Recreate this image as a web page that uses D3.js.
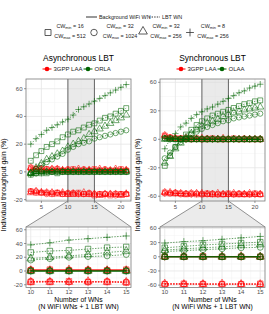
<!DOCTYPE html>
<html><head><meta charset="utf-8">
<script src="https://cdn.jsdelivr.net/npm/d3@7"></script>
<style>body{margin:0;background:#fff}svg{display:block}text{font-family:"Liberation Sans",Arial,sans-serif}</style>
</head><body><svg id="c" width="269" height="314"></svg>
<script>
// ---------- DATA ----------
const xs = [3,4,5,6,7,8,9,10,11,12,13,14,15,16,17,18,19,20,21];
const cwKeys = ["square","circle","triangle","plus"];
const cwMin = ["16","32","32","8"];
const cwMax = ["512","1024","256","256"];
const wnLabels = ["Background WiFi WN","LBT WN"];
const xTicksUpper = [5,10,15,20];
const xTicksLower = [10,11,12,13,14,15];
const zoomRange = [10,15];

// Asynchronous LBT — 3GPP LAA, background WiFi WN (solid)
const asyncLaaBgSquare   = [3,2,2,2,1,2,1,1,2,1,1,1,2,1,1,1,1,2,1];
const asyncLaaBgCircle   = [2,2,1,2,2,1,1,2,1,1,2,1,1,1,2,1,1,1,1];
const asyncLaaBgTriangle = [3,2,2,1,2,2,1,1,1,2,1,1,1,2,1,1,2,1,1];
const asyncLaaBgPlus     = [2,2,2,1,1,2,2,1,1,1,1,2,1,1,1,1,1,1,2];
// Asynchronous LBT — 3GPP LAA, LBT WN (dotted)
const asyncLaaLbtSquare   = [-14,-15,-15,-15,-16,-15,-16,-16,-16,-15,-16,-16,-17,-16,-16,-17,-16,-16,-16];
const asyncLaaLbtCircle   = [-14,-14,-15,-16,-15,-15,-16,-15,-15,-16,-16,-15,-16,-16,-16,-16,-17,-16,-16];
const asyncLaaLbtTriangle = [-15,-14,-15,-15,-15,-16,-15,-16,-16,-16,-15,-16,-16,-17,-16,-16,-16,-17,-16];
const asyncLaaLbtPlus     = [-14,-15,-14,-15,-16,-15,-15,-16,-15,-16,-16,-16,-16,-16,-17,-16,-16,-16,-15];
// Asynchronous LBT — ORLA, background WiFi WN (solid)
const asyncOrlaBgSquare   = [-2,-1,-1,-1,0,-1,0,0,0,0,0,0,0,0,0,0,0,0,0];
const asyncOrlaBgCircle   = [-1,-1,0,0,0,0,0,0,0,0,0,0,0,0,0,0,0,0,0];
const asyncOrlaBgTriangle = [-1,0,0,0,0,0,0,0,0,0,0,0,0,0,0,0,0,0,0];
const asyncOrlaBgPlus     = [-2,-1,-1,0,0,0,0,0,0,0,0,0,0,0,0,0,0,0,0];
// Asynchronous LBT — ORLA, LBT WN (dotted)
const asyncOrlaLbtSquare   = [8,12,15,18,20,22,25,27,29,30,32,34,35,37,39,40,42,44,46];
const asyncOrlaLbtCircle   = [-1,2,5,7,9,11,13,16,18,20,21,22,24,25,26,27,28,29,30];
const asyncOrlaLbtTriangle = [-1,3,6,9,11,13,15,18,20,22,24,27,29,31,33,35,37,39,41];
const asyncOrlaLbtPlus     = [20,24,27,30,32,34,36,38,41,45,47,49,51,53,55,57,59,61,63];

// Synchronous LBT — 3GPP LAA, background WiFi WN (solid)
const syncLaaBgSquare   = [4,2,1,1,1,0,1,0,0,1,0,0,0,1,0,0,0,0,0];
const syncLaaBgCircle   = [3,2,1,1,0,1,0,0,1,0,0,0,0,0,0,1,0,0,0];
const syncLaaBgTriangle = [4,1,1,0,1,0,0,1,0,0,0,1,0,0,0,0,0,0,0];
const syncLaaBgPlus     = [3,2,1,1,0,0,1,0,0,0,1,0,0,0,0,0,1,0,0];
// Synchronous LBT — 3GPP LAA, LBT WN (dotted)
const syncLaaLbtSquare   = [-56,-57,-57,-57,-58,-57,-58,-58,-57,-58,-58,-58,-57,-58,-58,-58,-58,-57,-58];
const syncLaaLbtCircle   = [-57,-57,-56,-58,-57,-58,-57,-58,-58,-57,-58,-58,-58,-58,-57,-58,-58,-58,-58];
const syncLaaLbtTriangle = [-56,-56,-57,-57,-58,-57,-57,-57,-58,-58,-57,-58,-58,-57,-58,-58,-57,-58,-58];
const syncLaaLbtPlus     = [-57,-56,-57,-57,-57,-58,-58,-57,-57,-58,-58,-57,-58,-58,-58,-57,-58,-58,-57];
// Synchronous LBT — OLAA, background WiFi WN (solid)
const syncOlaaBgSquare   = [1,1,0,0,0,0,0,0,0,0,0,0,0,0,0,0,0,0,0];
const syncOlaaBgCircle   = [1,0,0,0,0,0,0,0,0,0,0,0,0,0,0,0,0,0,0];
const syncOlaaBgTriangle = [0,0,0,0,0,0,0,0,0,0,0,0,0,0,0,0,0,0,0];
const syncOlaaBgPlus     = [1,1,1,0,0,0,0,0,0,0,0,0,0,0,0,0,0,0,0];
// Synchronous LBT — OLAA, LBT WN (dotted)
const syncOlaaLbtSquare   = [-28,-17,-8,0,5,10,15,19,22,25,27,29,31,33,35,37,38,40,41];
const syncOlaaLbtCircle   = [-20,-14,-8,-3,1,5,8,11,13,15,17,19,20,22,23,24,25,26,27];
const syncOlaaLbtTriangle = [-25,-18,-10,-4,2,6,10,14,17,19,21,24,26,28,29,31,32,33,34];
const syncOlaaLbtPlus     = [-10,0,6,13,17,22,26,29,32,34,37,40,43,46,49,51,54,56,58];

// ---------- LAYOUT / STYLE ----------
const RED = "#ff0000", GREEN = "#006400";
const panels = [
  { title:"Asynchronous LBT", techs:["3GPP LAA","ORLA"], x0:26, x1:131,
    yUp:[-21,67], yUpTicks:[-20,0,20,40,60], yLow:[-24,64], yLowTicks:[-20,0,20,40,60],
    series:[
      {col:RED, wn:0, vals:[asyncLaaBgSquare,asyncLaaBgCircle,asyncLaaBgTriangle,asyncLaaBgPlus]},
      {col:RED, wn:1, vals:[asyncLaaLbtSquare,asyncLaaLbtCircle,asyncLaaLbtTriangle,asyncLaaLbtPlus]},
      {col:GREEN, wn:1, vals:[asyncOrlaLbtSquare,asyncOrlaLbtCircle,asyncOrlaLbtTriangle,asyncOrlaLbtPlus]},
      {col:GREEN, wn:0, vals:[asyncOrlaBgSquare,asyncOrlaBgCircle,asyncOrlaBgTriangle,asyncOrlaBgPlus]}
    ]},
  { title:"Synchronous LBT", techs:["3GPP LAA","OLAA"], x0:160, x1:265,
    yUp:[-65,63.5], yUpTicks:[-60,-30,0,30,60], yLow:[-65,63], yLowTicks:[-60,-30,0,30,60],
    series:[
      {col:RED, wn:0, vals:[syncLaaBgSquare,syncLaaBgCircle,syncLaaBgTriangle,syncLaaBgPlus]},
      {col:RED, wn:1, vals:[syncLaaLbtSquare,syncLaaLbtCircle,syncLaaLbtTriangle,syncLaaLbtPlus]},
      {col:GREEN, wn:1, vals:[syncOlaaLbtSquare,syncOlaaLbtCircle,syncOlaaLbtTriangle,syncOlaaLbtPlus]},
      {col:GREEN, wn:0, vals:[syncOlaaBgSquare,syncOlaaBgCircle,syncOlaaBgTriangle,syncOlaaBgPlus]}
    ]}
];
const UP = [79,201], LOW = [227,287.5];
const svg = d3.select("#c");

function shapePath(k, s){
  if(k==="square") return d3.symbol(d3.symbolSquare, 24*s)();
  if(k==="circle") return d3.symbol(d3.symbolCircle, 22*s)();
  if(k==="triangle") return d3.symbol(d3.symbolTriangle, 22*s)();
  const a = 3.2*Math.sqrt(s);
  return `M${-a},0H${a}M0,${-a}V${a}`;
}

function drawPanel(p, yr, xDom, yDom, xTicks, yTicks, minorX, minorY, upper){
  const x = d3.scaleLinear().domain(xDom).range([p.x0,p.x1]);
  const y = d3.scaleLinear().domain(yDom).range([yr[1],yr[0]]);
  const g = svg.append("g");
  g.append("rect").attr("x",p.x0).attr("y",yr[0]).attr("width",p.x1-p.x0).attr("height",yr[1]-yr[0]).attr("fill","#fff");
  const clipId = "clip"+Math.round(p.x0)+"_"+Math.round(yr[0]);
  svg.append("clipPath").attr("id",clipId).append("rect").attr("x",p.x0).attr("y",yr[0]).attr("width",p.x1-p.x0).attr("height",yr[1]-yr[0]);
  const gc = g.append("g").attr("clip-path",`url(#${clipId})`);
  minorX.forEach(v=>gc.append("line").attr("x1",x(v)).attr("x2",x(v)).attr("y1",yr[0]).attr("y2",yr[1]).attr("stroke","#f2f2f2").attr("stroke-width",0.5));
  minorY.forEach(v=>gc.append("line").attr("y1",y(v)).attr("y2",y(v)).attr("x1",p.x0).attr("x2",p.x1).attr("stroke","#f2f2f2").attr("stroke-width",0.5));
  xTicks.forEach(v=>gc.append("line").attr("x1",x(v)).attr("x2",x(v)).attr("y1",yr[0]).attr("y2",yr[1]).attr("stroke","#e6e6e6").attr("stroke-width",0.8));
  yTicks.forEach(v=>gc.append("line").attr("y1",y(v)).attr("y2",y(v)).attr("x1",p.x0).attr("x2",p.x1).attr("stroke","#e6e6e6").attr("stroke-width",0.8));
  if(upper){
    gc.append("rect").attr("x",x(zoomRange[0])).attr("y",yr[0]).attr("width",x(zoomRange[1])-x(zoomRange[0])).attr("height",yr[1]-yr[0]).attr("fill","#d9d9d9").attr("opacity",0.55);
    zoomRange.forEach(v=>gc.append("line").attr("x1",x(v)).attr("x2",x(v)).attr("y1",yr[0]).attr("y2",yr[1]).attr("stroke","#666").attr("stroke-width",1));
  }
  const idx = xs.map((v,i)=>i).filter(i=>xs[i]>=xDom[0]&&xs[i]<=xDom[1]);
  const sc = upper?1:1.25;
  p.series.forEach(s=>{
    s.vals.forEach((arr,ci)=>{
      const line = d3.line().x(i=>x(xs[i])).y(i=>y(arr[i]));
      gc.append("path").attr("d",line(idx)).attr("fill","none").attr("stroke",s.col)
        .attr("stroke-width",0.8).attr("stroke-opacity",0.75)
        .attr("stroke-dasharray",s.wn===1?"1.4,1.4":null);
      idx.forEach(i=>{
        gc.append("path").attr("d",shapePath(cwKeys[ci],sc))
          .attr("transform",`translate(${x(xs[i])},${y(arr[i])})`)
          .attr("fill","none").attr("stroke",s.col).attr("stroke-width",0.8).attr("stroke-opacity",0.7);
      });
    });
  });
  g.append("rect").attr("x",p.x0).attr("y",yr[0]).attr("width",p.x1-p.x0).attr("height",yr[1]-yr[0]).attr("fill","none").attr("stroke","#7a7a7a").attr("stroke-width",0.8);
  const labOff = upper?7.5:6;
  xTicks.forEach(v=>{
    g.append("line").attr("x1",x(v)).attr("x2",x(v)).attr("y1",yr[1]).attr("y2",yr[1]+2).attr("stroke","#555").attr("stroke-width",0.6);
    g.append("text").attr("x",x(v)).attr("y",yr[1]+labOff).attr("text-anchor","middle").attr("font-size",6).attr("fill","#4d4d4d").text(v);
  });
  yTicks.forEach(v=>{
    g.append("line").attr("x1",p.x0-2).attr("x2",p.x0).attr("y1",y(v)).attr("y2",y(v)).attr("stroke","#555").attr("stroke-width",0.6);
    g.append("text").attr("x",p.x0-3.5).attr("y",y(v)+2).attr("text-anchor","end").attr("font-size",6).attr("fill","#4d4d4d").text(v);
  });
  return x;
}

panels.forEach(p=>{
  const cx = (p.x0+p.x1)/2;
  const xu = d3.scaleLinear().domain([2.1,21.9]).range([p.x0,p.x1]);
  svg.append("path").attr("d",`M${xu(zoomRange[0])},${UP[1]}L${xu(zoomRange[1])},${UP[1]}L${p.x1},${LOW[0]}L${p.x0},${LOW[0]}Z`)
    .attr("fill","#ebebeb").attr("stroke","none");
  svg.append("path").attr("d",`M${xu(zoomRange[0])},${UP[1]}L${p.x0},${LOW[0]}M${xu(zoomRange[1])},${UP[1]}L${p.x1},${LOW[0]}`)
    .attr("fill","none").attr("stroke","#666").attr("stroke-width",0.7);
  drawPanel(p, UP, [2.1,21.9], p.yUp, xTicksUpper, p.yUpTicks, [2.5,7.5,12.5,17.5],
    d3.pairs(p.yUpTicks).map(d=>(d[0]+d[1])/2), true);
  drawPanel(p, LOW, [9.75,15.25], p.yLow, xTicksLower, p.yLowTicks, [10.5,11.5,12.5,13.5,14.5],
    d3.pairs(p.yLowTicks).map(d=>(d[0]+d[1])/2), false);
  svg.append("text").attr("x",cx).attr("y",60.5).attr("text-anchor","middle").attr("font-size",8.4).attr("fill","#000").text(p.title);
  const lx = [p.x0+21, p.x0+62];
  p.techs.forEach((t,i)=>{
    const col = i===0?RED:GREEN;
    svg.append("line").attr("x1",lx[i]-4.5).attr("x2",lx[i]+4.5).attr("y1",69).attr("y2",69).attr("stroke",col).attr("stroke-width",1);
    svg.append("circle").attr("cx",lx[i]).attr("cy",69).attr("r",2.3).attr("fill",col);
    svg.append("text").attr("x",lx[i]+6.5).attr("y",71).attr("font-size",6).attr("fill","#222").text(t);
  });
  svg.append("text").attr("transform",`translate(${p.x0-20},185) rotate(-90)`).attr("text-anchor","middle")
    .attr("font-size",7).attr("fill","#000").text("Individual throughput gain (%)");
  svg.append("text").attr("x",cx).attr("y",301.5).attr("text-anchor","middle").attr("font-size",6.8).attr("fill","#000").text("Number of WNs");
  svg.append("text").attr("x",cx).attr("y",309).attr("text-anchor","middle").attr("font-size",6.8).attr("fill","#000").text("(N WiFi WNs + 1 LBT WN)");
});

// ---------- TOP LEGEND ----------
const wnKeyX = [86,149];
wnLabels.forEach((t,i)=>{
  svg.append("line").attr("x1",wnKeyX[i]).attr("x2",wnKeyX[i]+11).attr("y1",17).attr("y2",17)
    .attr("stroke","#333").attr("stroke-width",1).attr("stroke-dasharray",i===1?"1.4,1.2":null);
  svg.append("text").attr("x",wnKeyX[i]+13).attr("y",19).attr("font-size",5.4).attr("fill","#222").text(t);
});
const symX = [48,94,143,190];
const txtX = [70,120,166,213];
cwKeys.forEach((k,i)=>{
  svg.append("path").attr("d",shapePath(k,1.5)).attr("transform",`translate(${symX[i]},${k==="triangle"?31.5:32.5})`)
    .attr("fill","none").attr("stroke","#333").attr("stroke-width",0.8);
  [["min",cwMin[i],27.5],["max",cwMax[i],38]].forEach(([sub,val,yy])=>{
    const t = svg.append("text").attr("x",txtX[i]).attr("y",yy).attr("text-anchor","middle").attr("font-size",5.4).attr("fill","#222");
    t.append("tspan").text("CW");
    t.append("tspan").attr("font-size",3.8).attr("dy",1.2).text(sub);
    t.append("tspan").attr("dy",-1.2).text(" = "+val);
  });
});
</script></body></html>
